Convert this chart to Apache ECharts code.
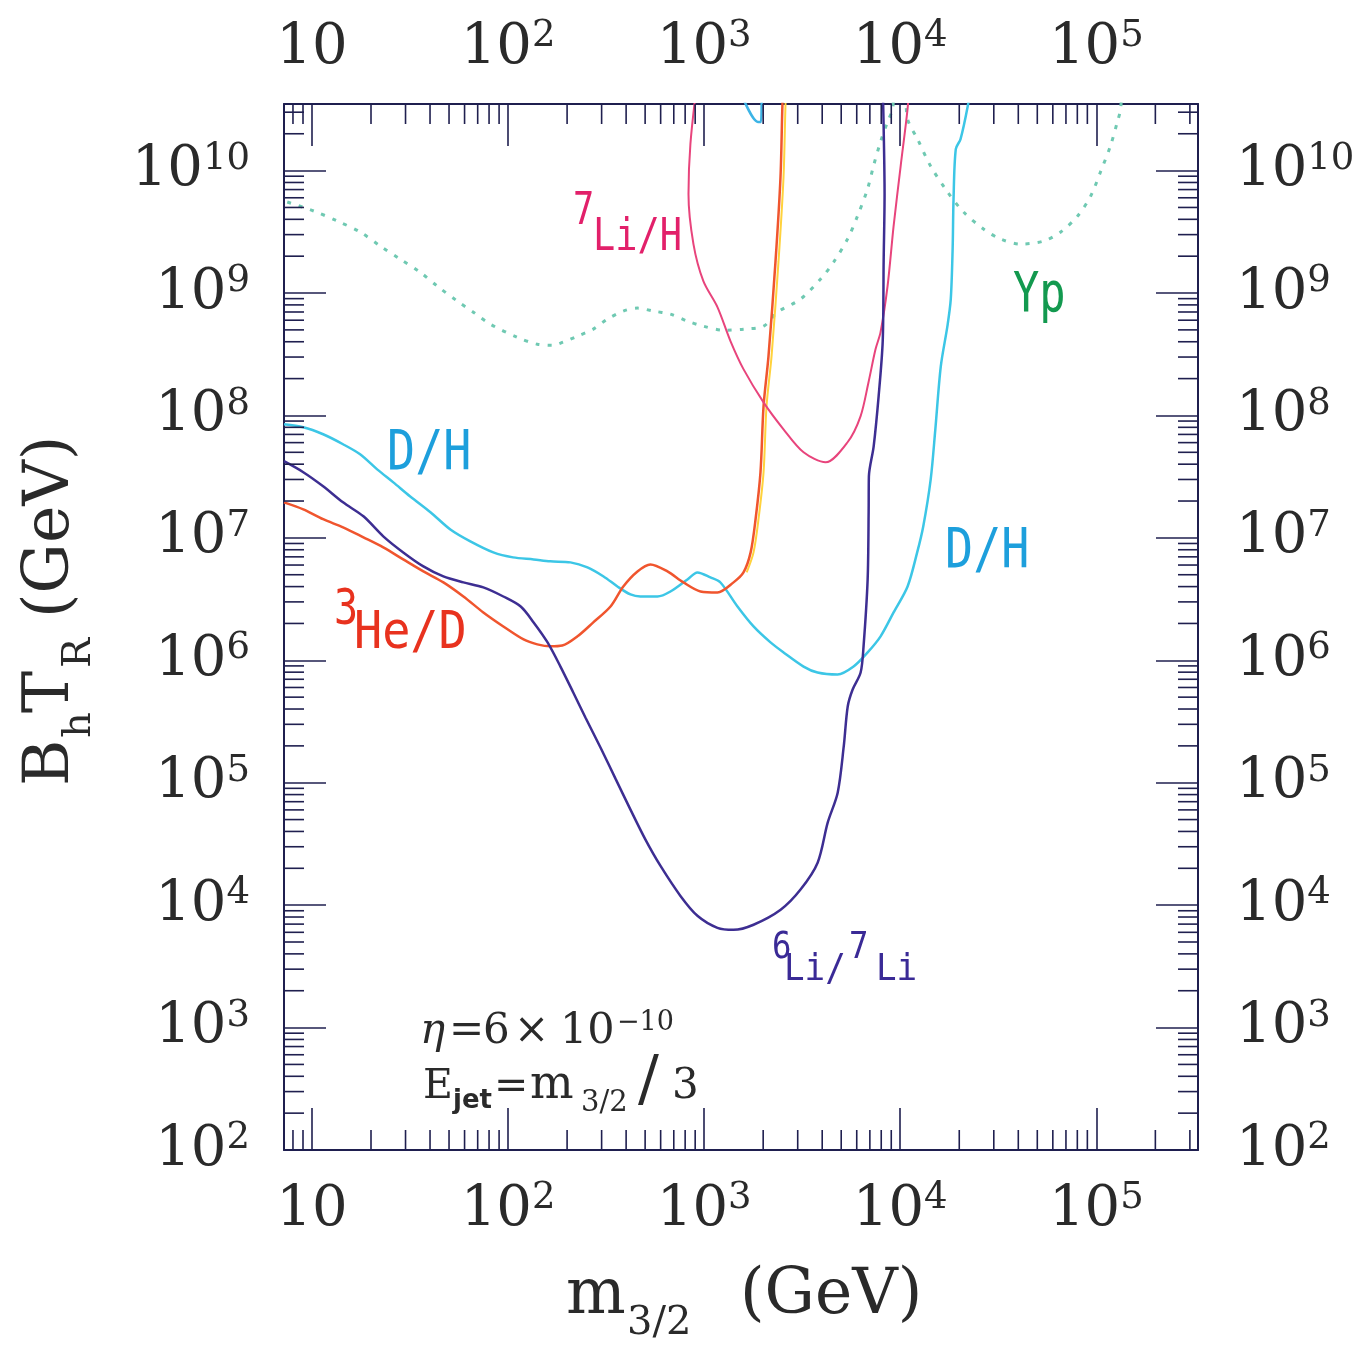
<!DOCTYPE html>
<html><head><meta charset="utf-8">
<script src="https://cdn.jsdelivr.net/npm/echarts@6/dist/echarts.min.js"></script>
<style>html,body{margin:0;padding:0;background:#fff}#c{width:1366px;height:1346px}</style>
</head><body><div id="c"></div>
<script>
// ---- axis ranges ----
const xMin = 7.2, xMax = 3.3e5;
const yMin = 100, yMax = 3.5e10;

// ---- curves: [m3/2 (GeV), BhTR (GeV)] ----
const ypCurve = [[7.48,5.54e9],[10.2,4.68e9],[13.5,3.87e9],[17.6,3.15e9],[22.3,2.42e9],[28.2,1.89e9],[35.6,1.48e9],[43.5,1.14e9],[55.1,8.59e8],[66.5,6.98e8],[81.1,5.57e8],[111,4.36e8],[141,3.82e8],[170,3.75e8],[191,3.97e8],[226,4.44e8],[272,5.07e8],[321,6.12e8],[387,7.12e8],[457,7.53e8],[551,7.12e8],[673,6.72e8],[822,5.89e8],[991,5.36e8],[1254,4.97e8],[1587,5.07e8],[2009,5.36e8],[2367,6.98e8],[3101,8.92e8],[3925,1.30e9],[4573,1.79e9],[5386,2.76e9],[6056,4.26e9],[6811,7.08e9],[7304,1.09e10],[7935,1.72e10],[8617,2.50e10],[9140,3.19e10],[9500,6e10],[10400,6e10],[10900,2.64e10],[12250,1.81e10],[14280,1.09e10],[17430,6.69e9],[21040,4.59e9],[26600,3.33e9],[32500,2.76e9],[41100,2.51e9],[53900,2.66e9],[65800,3.15e9],[80300,4.26e9],[93600,6.20e9],[105000,9.75e9],[118000,1.59e10],[128000,2.50e10],[133000,3.19e10],[136000,6e10]];

const dhCurve = [[7.2,8.47e7],[9.03,8.01e7],[11.4,7.02e7],[14.4,5.82e7],[17.6,4.82e7],[21.5,3.63e7],[26.0,2.84e7],[31.7,2.18e7],[40.2,1.62e7],[50.8,1.17e7],[64.2,9.36e6],[84.1,7.61e6],[106,6.93e6],[135,6.67e6],[164,6.43e6],[208,6.31e6],[254,5.74e6],[307,4.84e6],[361,4.01e6],[421,3.45e6],[473,3.32e6],[578,3.32e6],[673,3.65e6],[822,4.58e6],[924,5.22e6],[1077,4.75e6],[1211,4.32e6],[1479,2.75e6],[1786,1.89e6],[2180,1.40e6],[2540,1.16e6],[3214,8.89e5],[3786,7.94e5],[4790,7.65e5],[5780,8.89e5],[6820,1.16e6],[7940,1.57e6],[9250,2.46e6],[10900,4.01e6],[12200,7.61e6],[13100,1.24e7],[14300,3.01e7],[15100,7.71e7],[16100,2.52e8],[17400,5.36e8],[18100,8.91e8],[18500,2.28e9],[18700,5.86e9],[19200,1.50e10],[20300,1.81e10],[22100,3.37e10],[22900,5e10]];

const dhTopPiece = [[1570,4e10],[1880,2.5e10],[1950,2.5e10],[1964,4e10]];

const he3Curve = [[7.2,1.95e7],[9.03,1.71e7],[11.4,1.42e7],[14.4,1.22e7],[18.3,1.01e7],[23.1,8.36e6],[29.2,6.67e6],[37.0,5.32e6],[46.8,4.33e6],[59.2,3.32e6],[74.8,2.46e6],[94.6,1.89e6],[120,1.48e6],[141,1.35e6],[164,1.30e6],[189,1.32e6],[226,1.57e6],[272,2.04e6],[333,2.75e6],[387,4.01e6],[457,5.32e6],[532,6.07e6],[650,5.32e6],[784,4.33e6],[958,3.65e6],[1169,3.58e6],[1412,4.33e6],[1587,5.22e6],[1726,7.61e6],[1829,1.42e7],[1938,3.44e7],[2009,1.19e8],[2129,3.05e8],[2312,1.82e9],[2451,8.87e9],[2508,3.5e10],[2540,5e10]];

const he3Edge = [[1648,5.22e6],[1786,7.61e6],[1893,1.42e7],[2009,3.44e7],[2080,1.19e8],[2207,3.05e8],[2395,1.82e9],[2540,8.87e9],[2600,3.5e10],[2630,5e10]];

const li7Curve = [[916,5e10],[851,1.65e10],[832,6.44e9],[882,2.51e9],[991,1.25e9],[1169,7.67e8],[1362,4.05e8],[1587,2.39e8],[2009,1.28e8],[2540,7.71e7],[3214,5.00e7],[4160,4.14e7],[5386,6.04e7],[6273,9.84e7],[6890,1.87e8],[7480,3.47e8],[7935,4.79e8],[8617,1.14e9],[9250,3.52e9],[10050,1.09e10],[10900,3.19e10],[11100,5e10]];

const li6Curve = [[7.2,4.23e7],[9.03,3.44e7],[11.4,2.64e7],[14.4,1.95e7],[18.3,1.50e7],[23.1,1.03e7],[29.2,7.61e6],[37.0,5.85e6],[46.8,4.84e6],[59.2,4.33e6],[74.8,3.94e6],[94.6,3.32e6],[116,2.75e6],[135,2.04e6],[159,1.40e6],[185,8.89e5],[215,5.46e5],[248,3.41e5],[296,1.94e5],[353,1.08e5],[421,6.03e4],[502,3.43e4],[598,2.10e4],[757,1.19e4],[924,8.19e3],[1169,6.53e3],[1412,6.29e3],[1786,6.92e3],[2455,9.17e3],[3101,1.34e4],[3791,2.22e4],[4266,4.72e4],[4797,8.30e4],[5149,1.97e5],[5397,4.19e5],[5718,5.77e5],[6280,7.94e5],[6500,1.30e6],[6820,4.58e6],[6900,1.62e7],[6920,3.18e7],[7320,5.60e7],[7760,1.44e8],[8140,4.05e8],[8230,1.82e9],[8320,6.44e9],[8230,2.28e10],[8140,5e10]];

// ---- styling ----
const axisColor = '#1f1f4f';
const labelColor = '#2a2a2a';
const serif = 'DejaVu Serif';
const mono = 'DejaVu Sans Mono';

function minorValues(lo, hi) {
  const out = [];
  for (let e = -1; e <= 11; e++) for (let m = 2; m <= 9; m++) {
    const v = m * Math.pow(10, e);
    if (v > lo * 1.0001 && v < hi * 0.9999) out.push(v);
  }
  return out;
}
const xMinorTicks = minorValues(xMin, xMax);
const yMinorTicks = minorValues(yMin, yMax);

function powLabel(v) {
  const e = Math.log10(v), r = Math.round(e);
  if (Math.abs(e - r) > 1e-3) return '';
  return r === 1 ? '{b|10}' : '{b|10}{s|' + r + '}';
}
const richLab = {
  b: { fontFamily: serif, fontSize: 56, lineHeight: 60, color: labelColor },
  s: { fontFamily: serif, fontSize: 37, lineHeight: 45, color: labelColor, verticalAlign: 'top' }
};
function makeAxis(pos, isX, margin) {
  return {
    type: 'log', logBase: 10, position: pos,
    min: isX ? xMin : yMin, max: isX ? xMax : yMax,
    axisLine: { show: true, lineStyle: { color: axisColor, width: 2 } },
    axisTick: { show: true, inside: true, length: 42, lineStyle: { color: axisColor, width: 1.6 } },
    minorTick: { show: false },
    splitLine: { show: false },
    axisLabel: { show: true, margin: margin, formatter: powLabel, rich: richLab, showMinLabel: true, showMaxLabel: true }
  };
}

function txt(str, x, cy, fs, fam, color, sx, extra) {
  return {
    type: 'text', x: x, y: cy, scaleX: sx || 1, silent: true, z: 100,
    style: Object.assign({ text: str, x: 0, y: 0, fontSize: fs, fontFamily: fam, fill: color,
      textAlign: 'left', textVerticalAlign: 'middle', verticalAlign: 'middle' }, extra || {})
  };
}
// serif text placed by baseline
function stx(str, x, base, fs, color, extra, sx) {
  return txt(str, x, base - 0.346 * fs, fs, serif, color || labelColor, sx || 1, extra);
}

const cLi7 = '#e2206a', cDH = '#1d9fdc', cHe = '#e8321e', cYp = '#13994f', cLi6 = '#3a2a96';

const graphics = [
  // curve labels
  txt('7', 573, 213, 44, mono, cLi7, 0.8),
  txt('Li/H', 593, 239, 44, mono, cLi7, 0.84),
  txt('D/H', 387, 455, 55, mono, cDH, 0.85),
  txt('3', 334, 611, 50, mono, cHe, 0.8),
  txt('He/D', 354, 634, 52, mono, cHe, 0.9),
  txt('D/H', 945, 553, 55, mono, cDH, 0.85),
  txt('Yp', 1013, 296, 56, mono, cYp, 0.78),
  txt('6', 772, 948, 38, mono, cLi6, 0.85),
  txt('Li/', 784, 970, 38, mono, cLi6, 0.9),
  txt('7', 849, 948, 38, mono, cLi6, 0.85),
  txt('Li', 876, 970, 38, mono, cLi6, 0.9),
  // parameter annotation
  stx('\u03b7', 420, 1047, 42, labelColor, { fontStyle: 'italic' }),
  stx('=', 449, 1047, 42),
  stx('6', 483, 1047, 42),
  stx('\u00d7', 514, 1047, 42),
  stx('10', 560, 1047, 43),
  stx('\u221210', 617, 1032, 27),
  stx('E', 423, 1102, 41),
  txt('jet', 453, 1110 - 0.346 * 26, 26, 'DejaVu Sans', labelColor, 1, { fontWeight: 'bold' }),
  stx('=', 494, 1102, 41),
  stx('m', 530, 1102, 46),
  stx('3/2', 581, 1114, 29),
  stx('/', 638, 1104, 62),
  stx('3', 672, 1102, 42),
  // bottom axis title
  stx('m', 566, 1318, 63, labelColor),
  stx('3/2', 627, 1337, 40),
  stx('(GeV)', 740, 1318, 63),
  // left axis title (rotated)
  { type: 'group', x: 73, y: 786, rotation: Math.PI / 2, children: [
      stx('B', 0, 0, 63),
      stx('h', 48, 20, 40),
      stx('T', 73, 0, 63),
      stx('R', 118, 20, 40),
      stx('(GeV)', 168, 0, 63)
  ] }
];

function lineSeries(name, data, color, width, type, z) {
  return { name: name, type: 'line', data: data, showSymbol: false, symbol: 'none', smooth: 0.3,
    clip: true, z: z || 2, lineStyle: { color: color, width: width, type: type || 'solid' }, silent: true };
}

const chart = echarts.init(document.getElementById('c'), null, { renderer: 'canvas' });
chart.setOption({
  animation: false,
  backgroundColor: '#ffffff',
  grid: { left: 284, top: 104, width: 914, height: 1046, containLabel: false },
  xAxis: [makeAxis('bottom', true, 30), makeAxis('top', true, 26)],
  yAxis: [makeAxis('left', false, 34), makeAxis('right', false, 38)],
  graphic: graphics,
  series: [
    lineSeries('Yp', ypCurve, '#6fc9b2', 3, [4, 8], 2),
    lineSeries('D/H', dhCurve, '#3cc6e6', 2.5, 'solid', 3),
    lineSeries('D/H top', dhTopPiece, '#3cb4e6', 2.5, 'solid', 3),
    lineSeries('3He/D edge', he3Edge, '#ffd23c', 2, 'solid', 3),
    lineSeries('3He/D', he3Curve, '#f0552e', 2.5, 'solid', 4),
    lineSeries('7Li/H', li7Curve, '#e8447c', 2, 'solid', 4),
    lineSeries('6Li/7Li', li6Curve, '#3d2e92', 2.5, 'solid', 5),
    { type: 'custom', coordinateSystem: 'cartesian2d', xAxisIndex: 0, yAxisIndex: 0, silent: true, z: 6,
      data: xMinorTicks.map(function (v) { return [v, yMin]; }),
      renderItem: function (params, api) {
        const cs = params.coordSys;
        const px = api.coord([api.value(0), yMin])[0];
        const b = cs.y + cs.height, t = cs.y;
        return { type: 'group', children: [
          { type: 'line', shape: { x1: px, y1: b, x2: px, y2: b - 20 }, style: { stroke: axisColor, lineWidth: 1.6 } },
          { type: 'line', shape: { x1: px, y1: t, x2: px, y2: t + 20 }, style: { stroke: axisColor, lineWidth: 1.6 } }
        ] };
      } },
    { type: 'custom', coordinateSystem: 'cartesian2d', xAxisIndex: 0, yAxisIndex: 0, silent: true, z: 6,
      data: yMinorTicks.map(function (v) { return [xMin, v]; }),
      renderItem: function (params, api) {
        const cs = params.coordSys;
        const py = api.coord([xMin, api.value(1)])[1];
        const l = cs.x, r = cs.x + cs.width;
        return { type: 'group', children: [
          { type: 'line', shape: { x1: l, y1: py, x2: l + 20, y2: py }, style: { stroke: axisColor, lineWidth: 1.6 } },
          { type: 'line', shape: { x1: r, y1: py, x2: r - 20, y2: py }, style: { stroke: axisColor, lineWidth: 1.6 } }
        ] };
      } }
  ]
});
</script>
</body></html>
